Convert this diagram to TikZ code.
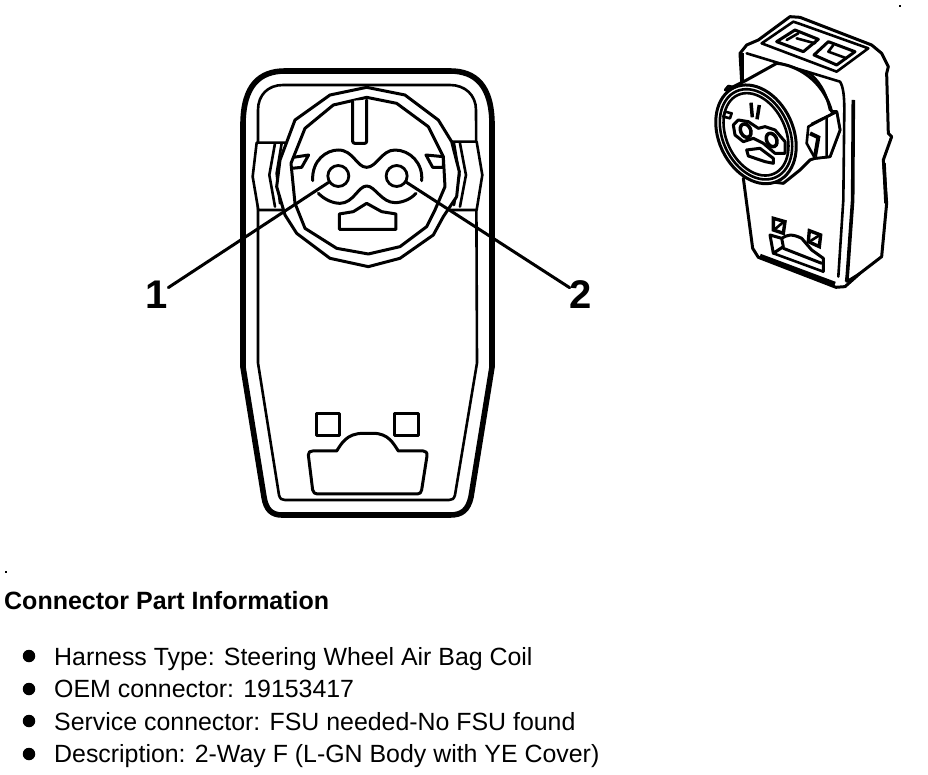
\documentclass[tikz,border=0pt]{standalone}
\usepackage{fontspec}
\setmainfont{Liberation Sans}
\tikzset{
 heavy/.style={line width=5.6pt,line join=round,line cap=round},
 mid/.style={line width=3pt,line join=round,line cap=round},
 thin/.style={line width=2.6pt,line join=round,line cap=round},
 pin/.style={circle,draw,line width=2.8pt,inner sep=0pt,minimum size=21pt,fill=white},
 callout/.style={font=\bfseries\fontsize{40}{40}\selectfont,inner sep=0pt},
 info/.style={anchor=base west,inner sep=0pt,font=\fontsize{24.9}{26}\selectfont},
 dot/.style={circle,fill=black,inner sep=0pt,minimum size=12.5pt},
 mainz/.style={shift={(230,60)},x=0.3333pt,y=-0.3333pt},
 lowz/.style={shift={(230,300)},x=0.3333pt,y=-0.3333pt},
 sidez/.style={shift={(690,0)},x=0.3333pt,y=-0.3333pt}
}
\begin{document}
\begin{tikzpicture}[x=1pt,y=-1pt]
\useasboundingbox (0,0) rectangle (928,774);
% main body
\draw[heavy] (243,125) -- (243,367) -- (264,497) .. controls (266,510) and (272,515) .. (282,515) -- (450,515) .. controls (462,515) and (468,510) .. (471,497) -- (492,367) -- (492,125) .. controls (492,85) and (475,71) .. (450,71) -- (285,71) .. controls (260,71) and (243,85) .. (243,125) -- cycle;
\draw[thin] (258,110) .. controls (258,95) and (268,85) .. (283,85) -- (450,85) .. controls (465,85) and (476,95) .. (476,110) -- (477,363) -- (455,495) .. controls (454,499) and (452,500) .. (449,500) -- (285,500) .. controls (282,500) and (280,499) .. (279,495) -- (258,363) -- cycle;
\begin{scope}[mainz]
% side tabs
\draw[thin,fill=white] (165,248) -- (80,248) -- (68,350) -- (85,450) -- (165,450);
\draw[thin,fill=white] (660,245) -- (740,245) -- (757,345) -- (740,450) -- (660,450);
\draw[thin] (135,250) -- (118,345) -- (135,440);
\draw[thin] (155,250) -- (140,340) -- (150,430);
\draw[thin] (690,250) -- (708,345) -- (690,440);
\draw[thin] (672,250) -- (688,345) -- (672,435);
% collar
\draw[mid,fill=white] (410,82) -- (525,105) -- (625,180) -- (665,245) -- (688,335) -- (680,410) -- (640,470) -- (610,525) -- (510,595) -- (415,620) -- (300,595) -- (200,520) -- (165,465) -- (140,380) -- (150,300) -- (195,180) -- (300,105) -- cycle;
\draw[mid] (410,112) -- (500,130) -- (595,200) -- (640,290) -- (645,380) -- (615,450) -- (590,500) -- (510,560) -- (415,582) -- (320,565) -- (225,505) -- (195,430) -- (183,310) -- (225,205) -- (310,135) -- cycle;
% key slot
\draw[mid,rounded corners=2pt,fill=white] (368,122) -- (368,250) -- (410,250) -- (410,120);
% small lugs
\draw[mid] (190,292) -- (236,285) -- (215,322) -- (185,325);
\draw[mid] (588,285) -- (640,290) -- (640,322) -- (608,322) -- cycle;
% cavity
\draw[mid] (248,362) .. controls (245,300) and (290,270) .. (325,270) .. controls (370,270) and (380,322) .. (410,322) .. controls (440,322) and (455,270) .. (495,270) .. controls (540,270) and (580,310) .. (575,362);
\draw[mid] (265,400) .. controls (285,420) and (310,430) .. (330,430) .. controls (370,430) and (385,378) .. (410,378) .. controls (435,378) and (455,428) .. (495,428) .. controls (520,428) and (545,415) .. (558,400);
\draw[mid] (328,462) -- (370,455) -- (410,430) -- (455,455) -- (498,462) -- (498,508) -- (328,508) -- cycle;
\node[pin] (pinone) at (325,348) {};
\node[pin] (pintwo) at (500,348) {};
\end{scope}
% lower window
\begin{scope}[lowz]
\draw[mid] (260,340) rectangle (330,408);
\draw[mid] (495,340) rectangle (565,408);
\draw[mid] (235,465) .. controls (235,456) and (240,453) .. (248,453) -- (320,453) .. controls (335,430) and (350,400) .. (400,400) -- (430,400) .. controls (475,400) and (490,430) .. (505,453) -- (580,453) .. controls (588,453) and (592,458) .. (591,468) -- (575,570) .. controls (573,578) and (570,582) .. (562,582) -- (262,582) .. controls (255,582) and (250,578) .. (248,570) -- cycle;
\end{scope}
% callouts
\node[callout] (labone) at (157,295) {1};
\node[callout] (labtwo) at (581,295) {2};
\draw[mid] (pinone) -- (labone);
\draw[mid] (pintwo) -- (labtwo);
% perspective connector
\begin{scope}[sidez]
% shell
\draw[mid,fill=white] (155,245) -- (150,160) -- (170,135) -- (205,120) -- (300,50) -- (330,52) -- (545,135) -- (575,160) -- (595,200) -- (590,220) -- (595,400) -- (605,410) -- (580,480) -- (590,610) -- (575,770) -- (510,820) -- (465,860) -- (438,862) -- (205,772) -- (188,745) -- (160,535);
\draw[line width=4pt] (155,160) -- (155,245);
% top plate
\draw[thin] (215,130) -- (310,65) -- (325,70) -- (535,145) -- (440,215) -- cycle;
\draw[mid] (260,125) -- (315,90) -- (385,118) -- (340,155) -- cycle;
\draw[thin] (290,120) -- (325,100);
\draw[thin] (320,115) -- (375,130);
\draw[mid] (372,165) -- (415,125) -- (495,155) -- (440,195) -- cycle;
\draw[thin] (415,155) -- (430,135);
\draw[thin] (415,155) -- (470,175);
\draw[thin] (170,160) -- (450,245) .. controls (460,260) and (463,290) .. (463,330) -- (460,600) -- (445,830);
% side edge lines
\draw[line width=3.6pt] (490,300) -- (488,600) -- (472,825) -- (470,845);
\draw[thin] (470,845) -- (510,820);
\draw[line width=3.6pt] (582,490) -- (588,610);
% cylinder
\draw[mid,fill=white] (170,240) -- (260,190) .. controls (320,195) and (400,240) .. (425,335) -- (440,335) -- (450,390) -- (420,470) -- (375,475) -- (360,480) -- (330,510) -- (280,550) -- (200,540) -- (110,270) -- cycle;
\draw[thin] (350,215) .. controls (385,235) and (410,280) .. (420,330);
% clip
\draw[thin,fill=white] (355,380) -- (440,335) -- (450,390) -- (420,470) -- (375,475) -- (350,430) -- cycle;
\draw[thin] (365,372) -- (410,350) -- (410,470);
\draw[line width=4pt] (360,400) -- (385,412) -- (375,470);
\draw[thin] (410,350) -- (440,335);
% face
\draw[mid,fill=white,rotate around={25:(198,403)}] (198,403) ellipse [x radius=37.3pt,y radius=51.6pt];
\draw[thin,rotate around={25:(198,403)}] (198,403) ellipse [x radius=33.3pt,y radius=47.3pt];
\draw[thin,rotate around={25:(198,403)}] (198,403) ellipse [x radius=29.6pt,y radius=43.3pt];
\draw[thin] (105,270) -- (115,258) -- (135,262);
\draw[line width=3.5pt] (183,308) -- (187,352);
\draw[line width=3.5pt] (208,315) -- (201,358);
\draw[thin] (105,335) -- (125,340) -- (120,355) -- (100,350) -- cycle;
\draw[mid] (130,375) -- (145,360) -- (175,365) -- (205,385) -- (225,380) -- (255,390) -- (285,425) -- (285,460) -- (255,460) -- (220,430) -- (190,415) -- (160,425) -- (135,405) -- cycle;
\draw[line width=3.5pt,rotate around={25:(167,392)}] (167,392) ellipse [x radius=5pt,y radius=7pt];
\draw[line width=3.5pt,rotate around={25:(245,420)}] (245,420) ellipse [x radius=5pt,y radius=7pt];
\draw[mid] (170,450) -- (210,445) -- (250,475) -- (250,490) -- (225,485) -- (175,468) -- cycle;
% retainer windows
\draw[line width=3.4pt] (250,655) -- (285,665) -- (280,700) -- (250,690) -- cycle;
\draw[thin] (258,685) -- (278,668);
\draw[line width=3.4pt] (358,692) -- (392,705) -- (388,740) -- (355,725) -- cycle;
\draw[thin] (363,722) -- (385,708);
\draw[mid] (275,715) -- (240,705) -- (250,760) -- (280,740) -- (275,715) .. controls (290,705) and (305,700) .. (335,715) -- (365,750) -- (400,775) -- (400,815);
\draw[mid] (280,745) -- (395,790);
\draw[thin] (250,760) -- (400,815);
\draw[line width=4.5pt] (210,768) -- (435,852);
\end{scope}
% text
\node[anchor=base west,inner sep=0pt,font=\bfseries\fontsize{25}{26}\selectfont] (title) at (4,609) {Connector Part Information};
\node[dot] (bulletone) at (29,656) {};
\node[dot] (bullettwo) at (29,689) {};
\node[dot] (bulletthree) at (29,721) {};
\node[dot] (bulletfour) at (29,754) {};
\node[info] (lineone) at (54,665) {Harness Type: Steering Wheel Air Bag Coil};
\node[info] (linetwo) at (54,697) {OEM connector: 19153417};
\node[info] (linethree) at (54,730) {Service connector: FSU needed-No FSU found};
\node[info] (linefour) at (54,762) {Description: 2-Way F (L-GN Body with YE Cover)};
\fill (5,571) rectangle (7,573);
\fill (899,5) rectangle (901,7);
\end{tikzpicture}
\end{document}
